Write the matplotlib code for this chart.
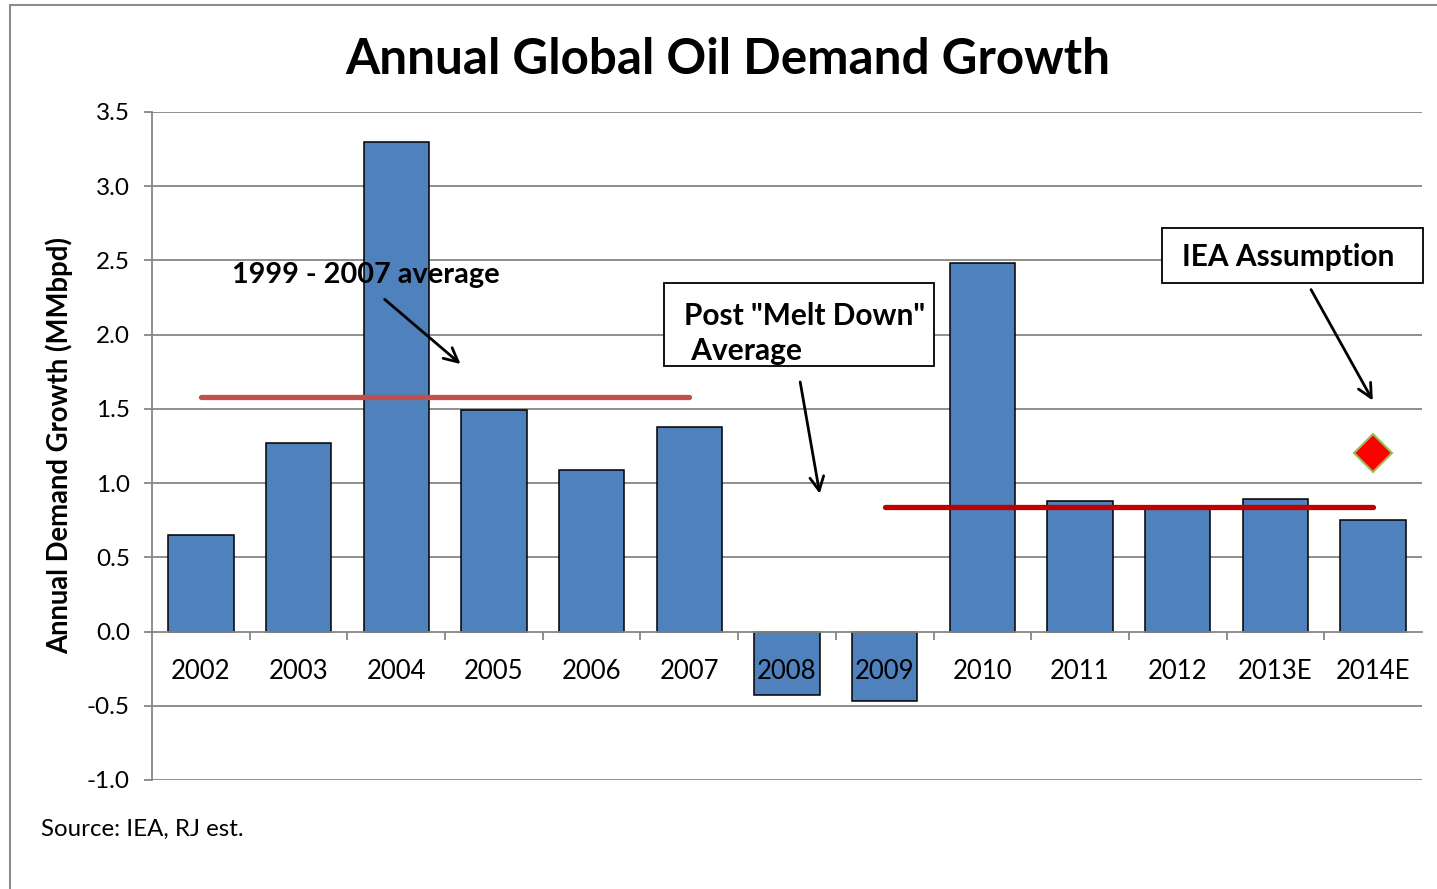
import matplotlib
matplotlib.use("Agg")
import matplotlib.pyplot as plt
from matplotlib.patches import Rectangle
import numpy as np

plt.rcParams['font.family'] = ['Lato', 'DejaVu Sans']

# datos
anios = ["2002", "2003", "2004", "2005", "2006", "2007", "2008",
         "2009", "2010", "2011", "2012", "2013E", "2014E"]
crecimiento = [0.65, 1.27, 3.30, 1.49, 1.09, 1.38, -0.43,
               -0.47, 2.48, 0.88, 0.84, 0.89, 0.75]
promedio_99_07 = 1.58
promedio_post = 0.84
supuesto_iea = 1.20

gris = "#868686"
W, H = 1437, 889

fig = plt.figure(figsize=(W / 100, H / 100), dpi=100)
ax = fig.add_axes([152/W, 1 - 780/H, (1422 - 152)/W, (780 - 112)/H])

x = np.arange(len(anios))

# lineas de la grilla por debajo de las barras
for v in np.arange(-1.0, 3.51, 0.5):
    if v != 0:
        ax.axhline(v, color=gris, lw=1.3, zorder=0)

ax.bar(x, crecimiento, width=0.67, color="#4F81BD", edgecolor="black",
       linewidth=1.1, zorder=2)

# promedios
ax.plot([0, 5], [promedio_99_07] * 2, color="#C0504D", lw=3.8,
        solid_capstyle="round", zorder=3)
ax.plot([7, 12], [promedio_post] * 2, color="#C00000", lw=3.8,
        solid_capstyle="round", zorder=3)

# supuesto de la IEA
ax.plot([12], [supuesto_iea], marker="D", markersize=19.5, color="#FF0000",
        markeredgecolor="#9BBB59", markeredgewidth=1.5, zorder=4)

ax.set_xlim(-0.5, len(anios) - 0.5)
ax.set_ylim(-1.0, 3.5)
ax.set_yticks(np.arange(-1.0, 3.51, 0.5))
ax.set_yticklabels([f"{v:.1f}" for v in np.arange(-1.0, 3.51, 0.5)], fontsize=17.5)

ax.spines['bottom'].set_position(('data', 0))
ax.spines['top'].set_visible(False)
ax.spines['right'].set_visible(False)
for s in ('left', 'bottom'):
    ax.spines[s].set_color(gris)
    ax.spines[s].set_linewidth(1.3)
ax.set_axisbelow(False)

ax.set_xticks(x)
ax.set_xticklabels(anios, fontsize=18.5)
ax.set_xticks(np.arange(0.5, len(anios) - 1, 1.0), minor=True)
ax.tick_params(axis='x', which='major', length=0, pad=20)
ax.tick_params(axis='x', which='minor', length=6, width=1.3, color=gris)
ax.tick_params(axis='y', length=6, width=1.3, color=gris, pad=10)

ax.set_ylabel("Annual Demand Growth (MMbpd)", fontsize=19.8, fontweight="bold",
              labelpad=10)

# anotaciones
flecha = dict(arrowstyle="->,head_length=1.0,head_width=0.5", color="black", lw=2)
ax.text(1.69, 2.40, "1999 - 2007 average", fontsize=20.8, fontweight="bold",
        ha="center", va="center", zorder=5)
ax.annotate("", xy=(2.68, 1.79), xytext=(1.86, 2.25), arrowprops=flecha, zorder=5)

ax.add_patch(Rectangle((664/W, 1 - 366/H), 270/W, 83/H, transform=fig.transFigure,
                       fc="white", ec="black", lw=1.3, zorder=4, clip_on=False))
ax.text(4.945, 2.01, "Post \"Melt Down\"\n Average", fontsize=21.5,
        fontweight="bold", ha="left", va="center", linespacing=1.3, zorder=5)
ax.annotate("", xy=(6.34, 0.91), xytext=(6.13, 1.70), arrowprops=flecha, zorder=5)

ax.add_patch(Rectangle((1162/W, 1 - 283/H), 261/W, 55/H, transform=fig.transFigure,
                       fc="white", ec="black", lw=1.3, zorder=4, clip_on=False))
ax.text(10.04, 2.52, "IEA Assumption", fontsize=21.5, fontweight="bold",
        ha="left", va="center", zorder=5)
ax.annotate("", xy=(12.01, 1.54), xytext=(11.35, 2.32), arrowprops=flecha, zorder=5)

fig.text(728/W, 1 - 60/H, "Annual Global Oil Demand Growth", fontsize=35.6,
         fontweight="bold", ha="center", va="center")
fig.text(41/W, 1 - 829/H, "Source: IEA, RJ est.", fontsize=17.3,
         ha="left", va="center")

# marco exterior
fig.patches.append(Rectangle((10/W, -0.1), 1.2, 1 - 5/H + 0.1,
                             transform=fig.transFigure, fill=False,
                             ec="#8C8C8C", lw=1.5))

fig.savefig("out.png", dpi=100)
